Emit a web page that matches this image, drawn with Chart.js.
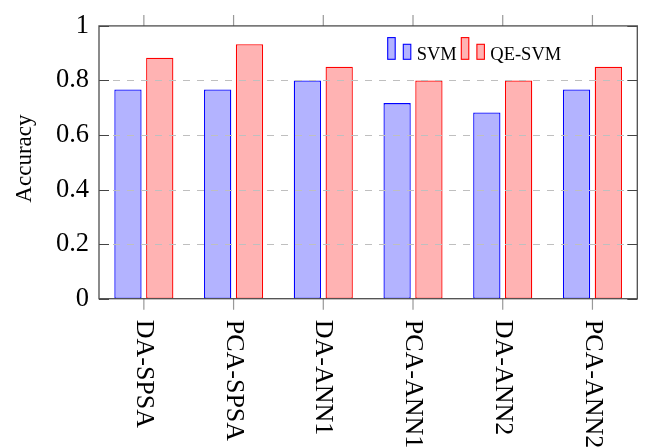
<!DOCTYPE html>
<html>
<head>
<meta charset="utf-8">
<script src="https://cdn.jsdelivr.net/npm/chart.js@4.4.1/dist/chart.umd.min.js"></script>
<style>
  html, body { margin: 0; padding: 0; background: #ffffff; }
  #wrap { width: 645px; height: 448px; }
</style>
</head>
<body>
<div id="wrap"><canvas id="chart" width="645" height="448"></canvas></div>
<script>
// Accuracy of the two classifiers for each feature pipeline
const categories = ['DA-SPSA', 'PCA-SPSA', 'DA-ANN1', 'PCA-ANN1', 'DA-ANN2', 'PCA-ANN2'];
const svmAccuracy = [0.767, 0.767, 0.8, 0.717, 0.683, 0.767];
const qeSvmAccuracy = [0.883, 0.933, 0.85, 0.8, 0.8, 0.85];
const seriesNames = ['SVM', 'QE-SVM'];
const yTickValues = [0, 0.2, 0.4, 0.6, 0.8, 1];
const yTickLabels = ['0', '0.2', '0.4', '0.6', '0.8', '1'];
const yAxisTitle = 'Accuracy';

const SERIF = '"Liberation Serif", "Times New Roman", serif';
const BLUE_FILL = 'rgb(179,179,255)';
const BLUE_LINE = 'rgb(0,0,255)';
const RED_FILL = 'rgb(255,179,179)';
const RED_LINE = 'rgb(255,0,0)';

// Frame, dashed grid and tick marks are painted above the bars ("axis on top"),
// together with the in-plot legend, the axis title and the downward-reading
// category labels.
const axisOnTop = {
  id: 'axisOnTop',
  afterDatasetsDraw(chart) {
    const ctx = chart.ctx;
    const a = chart.chartArea;
    const xs = chart.scales.x;
    const ys = chart.scales.y;

    ctx.save();
    // dashed horizontal grid
    ctx.strokeStyle = '#bfbfbf';
    ctx.lineWidth = 1;
    ctx.setLineDash([7, 7]);
    ys.ticks.forEach(t => {
      if (t.value <= ys.min || t.value >= ys.max) return;
      const y = Math.round(ys.getPixelForValue(t.value)) + 0.5;
      ctx.beginPath();
      ctx.moveTo(a.left, y);
      ctx.lineTo(a.right, y);
      ctx.stroke();
    });
    ctx.setLineDash([]);

    // y tick marks, inward on both sides
    ctx.strokeStyle = '#444';
    ctx.lineWidth = 1;
    ys.ticks.forEach(t => {
      const y = Math.round(ys.getPixelForValue(t.value)) + 0.5;
      ctx.beginPath();
      ctx.moveTo(a.left, y); ctx.lineTo(a.left + 10, y);
      ctx.moveTo(a.right, y); ctx.lineTo(a.right - 10, y);
      ctx.stroke();
    });

    // x tick marks, outward at top and bottom
    ctx.strokeStyle = '#999';
    ctx.lineWidth = 1.2;
    categories.forEach((c, i) => {
      const x = xs.getPixelForTick(i);
      ctx.beginPath();
      ctx.moveTo(x, a.top); ctx.lineTo(x, a.top - 11);
      ctx.moveTo(x, a.bottom); ctx.lineTo(x, a.bottom + 11);
      ctx.stroke();
    });

    // plot frame
    ctx.strokeStyle = '#4d4d4d';
    ctx.lineWidth = 1.3;
    ctx.strokeRect(a.left, a.top, a.right - a.left, a.bottom - a.top);

    // legend: two-bar glyph followed by the series name
    const fills = [BLUE_FILL, RED_FILL];
    const lines = [BLUE_LINE, RED_LINE];
    const base = a.top + 33.4;
    let x = a.right - 249.6;
    ctx.font = '18.5px ' + SERIF;
    ctx.textAlign = 'left';
    ctx.textBaseline = 'alphabetic';
    seriesNames.forEach((name, i) => {
      ctx.fillStyle = fills[i];
      ctx.strokeStyle = lines[i];
      ctx.lineWidth = 1.1;
      ctx.fillRect(x, base - 21.7, 7.5, 21.7);
      ctx.strokeRect(x, base - 21.7, 7.5, 21.7);
      ctx.fillRect(x + 15.6, base - 15, 7.5, 15);
      ctx.strokeRect(x + 15.6, base - 15, 7.5, 15);
      x += 29;
      ctx.fillStyle = '#000';
      ctx.fillText(name, x, base + 0.6);
      x += ctx.measureText(name).width + 4.5;
    });

    // y axis title
    ctx.font = '23px ' + SERIF;
    ctx.fillStyle = '#000';
    ctx.textAlign = 'center';
    ctx.textBaseline = 'alphabetic';
    ctx.save();
    ctx.translate(a.left - 68.5, (a.top + a.bottom) / 2 - 3.7);
    ctx.rotate(-Math.PI / 2);
    ctx.fillText(yAxisTitle, 0, 0);
    ctx.restore();

    // category labels, rotated to read downward from the axis
    ctx.font = '26px ' + SERIF;
    ctx.fillStyle = '#000';
    ctx.textAlign = 'left';
    ctx.textBaseline = 'middle';
    categories.forEach((c, i) => {
      ctx.save();
      ctx.translate(xs.getPixelForTick(i), a.bottom + 21);
      ctx.rotate(Math.PI / 2);
      ctx.fillText(c, 0, 0);
      ctx.restore();
    });
    ctx.restore();
  }
};

new Chart(document.getElementById('chart'), {
  type: 'bar',
  data: {
    labels: categories,
    datasets: [
      {
        label: seriesNames[0],
        data: svmAccuracy,
        backgroundColor: BLUE_FILL,
        borderColor: BLUE_LINE,
        borderWidth: 1.3,
        borderSkipped: false
      },
      {
        label: seriesNames[1],
        data: qeSvmAccuracy,
        backgroundColor: RED_FILL,
        borderColor: RED_LINE,
        borderWidth: 1.3,
        borderSkipped: false
      }
    ]
  },
  options: {
    responsive: false,
    animation: false,
    devicePixelRatio: 1,
    categoryPercentage: 0.709,
    barPercentage: 0.858,
    layout: { padding: { left: 0, top: 15.5, right: 7.7, bottom: 0 } },
    plugins: {
      legend: { display: false },
      tooltip: { enabled: false }
    },
    scales: {
      x: {
        type: 'category',
        offset: true,
        grid: { display: false, drawTicks: false },
        border: { display: false },
        ticks: { display: false },
        afterFit(scale) { scale.height = 149.3; }
      },
      y: {
        min: 0,
        max: 1,
        grid: { display: false, drawTicks: false },
        border: { display: false },
        afterBuildTicks(scale) { scale.ticks = yTickValues.map(v => ({ value: v })); },
        ticks: {
          padding: 10,
          color: '#000',
          font: { family: SERIF, size: 26.5 },
          callback: (value, index) => yTickLabels[index]
        },
        title: { display: false },
        afterFit(scale) { scale.width = 99; }
      }
    }
  },
  plugins: [axisOnTop]
});
</script>
</body>
</html>
